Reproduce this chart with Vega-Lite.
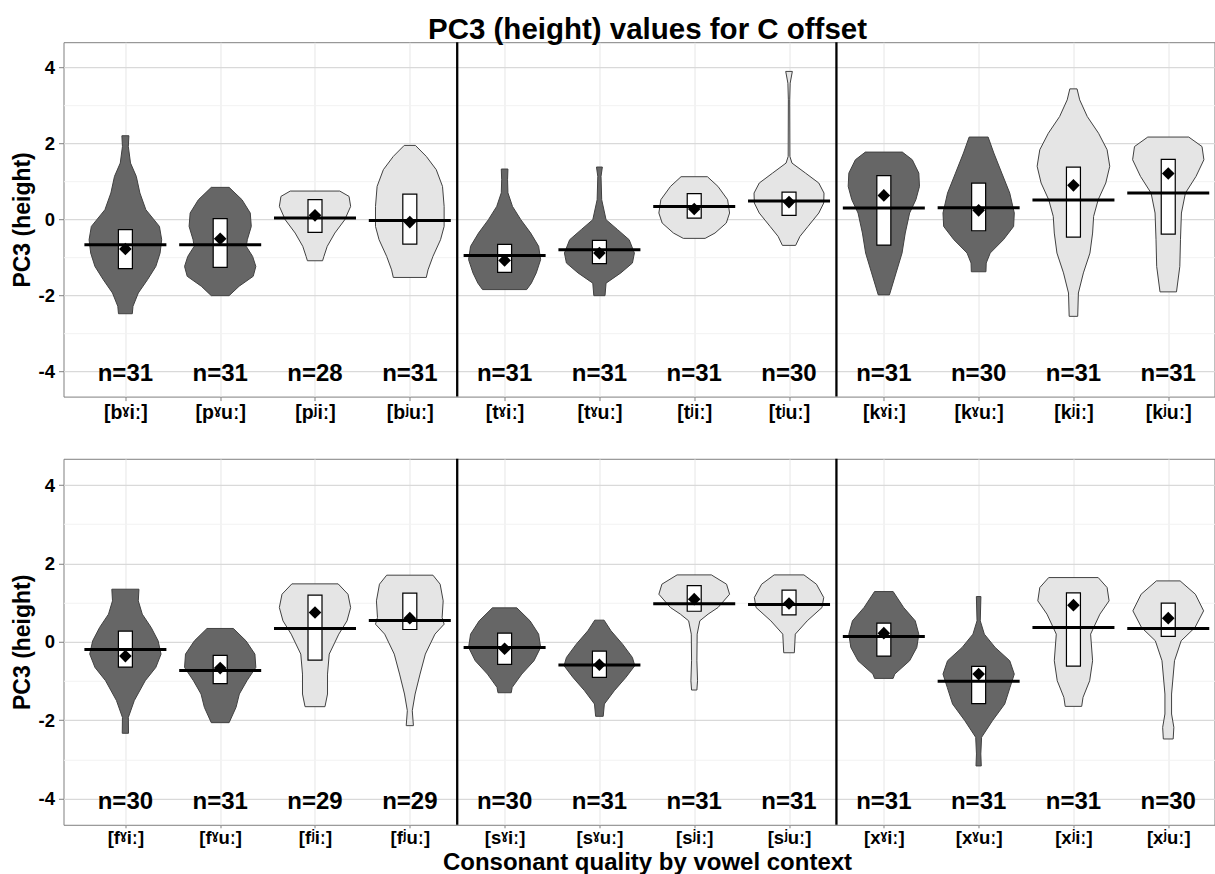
{
"$schema": "https://vega.github.io/schema/vega-lite/v6.json",
"background": "white",
"padding": {"left": 10.5, "top": 14.2, "right": 0, "bottom": 0},
"title": {"text": "PC3 (height) values for C offset", "font": "Liberation Sans", "fontSize": 29.5, "fontWeight": "bold", "color": "black", "anchor": "start", "frame": "group", "dx": 364.5, "offset": -27.7, "baseline": "alphabetic"},
"config": {"font": "Liberation Sans", "view": {"stroke": "#808080", "strokeWidth": 1}},
"spacing": 61.6,
"bounds": "flush",
"datasets": {
"vio": [
{"p":"A","k":1,"t":"d","v":2.205,"lo":0.963,"hi":1.037},{"p":"A","k":1,"t":"d","v":1.92,"lo":0.969,"hi":1.031},{"p":"A","k":1,"t":"d","v":1.485,"lo":0.946,"hi":1.054},{"p":"A","k":1,"t":"d","v":1.134,"lo":0.885,"hi":1.115},{"p":"A","k":1,"t":"d","v":0.695,"lo":0.847,"hi":1.153},{"p":"A","k":1,"t":"d","v":0.255,"lo":0.784,"hi":1.216},{"p":"A","k":1,"t":"d","v":-0.185,"lo":0.641,"hi":1.359},{"p":"A","k":1,"t":"d","v":-0.536,"lo":0.617,"hi":1.383},{"p":"A","k":1,"t":"d","v":-0.887,"lo":0.634,"hi":1.366},{"p":"A","k":1,"t":"d","v":-1.24,"lo":0.679,"hi":1.321},{"p":"A","k":1,"t":"d","v":-1.59,"lo":0.767,"hi":1.233},{"p":"A","k":1,"t":"d","v":-1.94,"lo":0.864,"hi":1.136},{"p":"A","k":1,"t":"d","v":-2.29,"lo":0.92,"hi":1.08},{"p":"A","k":1,"t":"d","v":-2.486,"lo":0.927,"hi":1.073},
{"p":"A","k":2,"t":"d","v":0.844,"lo":1.906,"hi":2.094},{"p":"A","k":2,"t":"d","v":0.519,"lo":1.77,"hi":2.23},{"p":"A","k":2,"t":"d","v":0.168,"lo":1.683,"hi":2.317},{"p":"A","k":2,"t":"d","v":-0.185,"lo":1.672,"hi":2.328},{"p":"A","k":2,"t":"d","v":-0.536,"lo":1.714,"hi":2.286},{"p":"A","k":2,"t":"d","v":-0.712,"lo":1.725,"hi":2.275},{"p":"A","k":2,"t":"d","v":-0.975,"lo":1.658,"hi":2.342},{"p":"A","k":2,"t":"d","v":-1.24,"lo":1.624,"hi":2.376},{"p":"A","k":2,"t":"d","v":-1.5,"lo":1.652,"hi":2.348},{"p":"A","k":2,"t":"d","v":-1.76,"lo":1.8,"hi":2.2},{"p":"A","k":2,"t":"d","v":-2.01,"lo":1.906,"hi":2.094},
{"p":"A","k":3,"t":"l","v":0.747,"lo":2.739,"hi":3.261},{"p":"A","k":3,"t":"l","v":0.606,"lo":2.641,"hi":3.359},{"p":"A","k":3,"t":"l","v":0.343,"lo":2.624,"hi":3.376},{"p":"A","k":3,"t":"l","v":-0.008,"lo":2.686,"hi":3.314},{"p":"A","k":3,"t":"l","v":-0.36,"lo":2.791,"hi":3.209},{"p":"A","k":3,"t":"l","v":-0.71,"lo":2.871,"hi":3.129},{"p":"A","k":3,"t":"l","v":-0.975,"lo":2.906,"hi":3.094},{"p":"A","k":3,"t":"l","v":-1.09,"lo":2.92,"hi":3.08},
{"p":"A","k":4,"t":"l","v":1.95,"lo":3.941,"hi":4.059},{"p":"A","k":4,"t":"l","v":1.66,"lo":3.826,"hi":4.174},{"p":"A","k":4,"t":"l","v":1.31,"lo":3.721,"hi":4.279},{"p":"A","k":4,"t":"l","v":0.87,"lo":3.655,"hi":4.345},{"p":"A","k":4,"t":"l","v":0.343,"lo":3.638,"hi":4.362},{"p":"A","k":4,"t":"l","v":-0.185,"lo":3.638,"hi":4.362},{"p":"A","k":4,"t":"l","v":-0.536,"lo":3.676,"hi":4.324},{"p":"A","k":4,"t":"l","v":-0.975,"lo":3.756,"hi":4.244},{"p":"A","k":4,"t":"l","v":-1.33,"lo":3.808,"hi":4.192},{"p":"A","k":4,"t":"l","v":-1.53,"lo":3.826,"hi":4.174},
{"p":"A","k":5,"t":"d","v":1.327,"lo":4.965,"hi":5.035},{"p":"A","k":5,"t":"d","v":1.045,"lo":4.969,"hi":5.031},{"p":"A","k":5,"t":"d","v":0.7,"lo":4.965,"hi":5.035},{"p":"A","k":5,"t":"d","v":0.343,"lo":4.917,"hi":5.083},{"p":"A","k":5,"t":"d","v":-0.008,"lo":4.829,"hi":5.171},{"p":"A","k":5,"t":"d","v":-0.36,"lo":4.725,"hi":5.275},{"p":"A","k":5,"t":"d","v":-0.71,"lo":4.641,"hi":5.359},{"p":"A","k":5,"t":"d","v":-1.06,"lo":4.62,"hi":5.38},{"p":"A","k":5,"t":"d","v":-1.41,"lo":4.666,"hi":5.334},{"p":"A","k":5,"t":"d","v":-1.68,"lo":4.718,"hi":5.282},{"p":"A","k":5,"t":"d","v":-1.85,"lo":4.767,"hi":5.233},
{"p":"A","k":6,"t":"d","v":1.38,"lo":5.969,"hi":6.031},{"p":"A","k":6,"t":"d","v":1.134,"lo":5.983,"hi":6.017},{"p":"A","k":6,"t":"d","v":0.519,"lo":5.976,"hi":6.024},{"p":"A","k":6,"t":"d","v":-0.008,"lo":5.93,"hi":6.07},{"p":"A","k":6,"t":"d","v":-0.27,"lo":5.808,"hi":6.192},{"p":"A","k":6,"t":"d","v":-0.536,"lo":5.686,"hi":6.314},{"p":"A","k":6,"t":"d","v":-0.887,"lo":5.631,"hi":6.369},{"p":"A","k":6,"t":"d","v":-1.15,"lo":5.652,"hi":6.348},{"p":"A","k":6,"t":"d","v":-1.41,"lo":5.774,"hi":6.226},{"p":"A","k":6,"t":"d","v":-1.68,"lo":5.93,"hi":6.07},{"p":"A","k":6,"t":"d","v":-2.01,"lo":5.941,"hi":6.059},
{"p":"A","k":7,"t":"l","v":1.125,"lo":6.861,"hi":7.139},{"p":"A","k":7,"t":"l","v":0.87,"lo":6.75,"hi":7.25},{"p":"A","k":7,"t":"l","v":0.519,"lo":6.648,"hi":7.352},{"p":"A","k":7,"t":"l","v":0.168,"lo":6.627,"hi":7.373},{"p":"A","k":7,"t":"l","v":-0.096,"lo":6.662,"hi":7.338},{"p":"A","k":7,"t":"l","v":-0.36,"lo":6.781,"hi":7.219},{"p":"A","k":7,"t":"l","v":-0.5,"lo":6.885,"hi":7.115},
{"p":"A","k":8,"t":"l","v":3.9,"lo":7.965,"hi":8.035},{"p":"A","k":8,"t":"l","v":3.59,"lo":7.988,"hi":8.012},{"p":"A","k":8,"t":"l","v":3.15,"lo":7.993,"hi":8.007},{"p":"A","k":8,"t":"l","v":1.66,"lo":7.991,"hi":8.009},{"p":"A","k":8,"t":"l","v":1.485,"lo":7.969,"hi":8.031},{"p":"A","k":8,"t":"l","v":1.22,"lo":7.826,"hi":8.174},{"p":"A","k":8,"t":"l","v":0.958,"lo":7.686,"hi":8.314},{"p":"A","k":8,"t":"l","v":0.694,"lo":7.631,"hi":8.369},{"p":"A","k":8,"t":"l","v":0.431,"lo":7.634,"hi":8.366},{"p":"A","k":8,"t":"l","v":0.168,"lo":7.686,"hi":8.314},{"p":"A","k":8,"t":"l","v":-0.185,"lo":7.8,"hi":8.2},{"p":"A","k":8,"t":"l","v":-0.449,"lo":7.885,"hi":8.115},{"p":"A","k":8,"t":"l","v":-0.685,"lo":7.93,"hi":8.07},
{"p":"A","k":9,"t":"d","v":1.774,"lo":8.805,"hi":9.195},{"p":"A","k":9,"t":"d","v":1.572,"lo":8.7,"hi":9.3},{"p":"A","k":9,"t":"d","v":1.22,"lo":8.631,"hi":9.369},{"p":"A","k":9,"t":"d","v":0.87,"lo":8.624,"hi":9.376},{"p":"A","k":9,"t":"d","v":0.519,"lo":8.662,"hi":9.338},{"p":"A","k":9,"t":"d","v":0.168,"lo":8.728,"hi":9.272},{"p":"A","k":9,"t":"d","v":-0.36,"lo":8.774,"hi":9.226},{"p":"A","k":9,"t":"d","v":-0.887,"lo":8.808,"hi":9.192},{"p":"A","k":9,"t":"d","v":-1.41,"lo":8.871,"hi":9.129},{"p":"A","k":9,"t":"d","v":-1.99,"lo":8.941,"hi":9.059},
{"p":"A","k":10,"t":"d","v":2.17,"lo":9.9,"hi":10.1},{"p":"A","k":10,"t":"d","v":1.75,"lo":9.84,"hi":10.16},{"p":"A","k":10,"t":"d","v":1.22,"lo":9.756,"hi":10.244},{"p":"A","k":10,"t":"d","v":0.694,"lo":9.672,"hi":10.328},{"p":"A","k":10,"t":"d","v":0.168,"lo":9.624,"hi":10.376},{"p":"A","k":10,"t":"d","v":-0.185,"lo":9.631,"hi":10.369},{"p":"A","k":10,"t":"d","v":-0.536,"lo":9.739,"hi":10.261},{"p":"A","k":10,"t":"d","v":-0.887,"lo":9.878,"hi":10.122},{"p":"A","k":10,"t":"d","v":-1.15,"lo":9.92,"hi":10.08},{"p":"A","k":10,"t":"d","v":-1.38,"lo":9.923,"hi":10.077},
{"p":"A","k":11,"t":"l","v":3.44,"lo":10.962,"hi":11.038},{"p":"A","k":11,"t":"l","v":3.15,"lo":10.934,"hi":11.066},{"p":"A","k":11,"t":"l","v":2.71,"lo":10.854,"hi":11.146},{"p":"A","k":11,"t":"l","v":2.27,"lo":10.735,"hi":11.265},{"p":"A","k":11,"t":"l","v":1.835,"lo":10.645,"hi":11.355},{"p":"A","k":11,"t":"l","v":1.4,"lo":10.617,"hi":11.383},{"p":"A","k":11,"t":"l","v":0.958,"lo":10.659,"hi":11.341},{"p":"A","k":11,"t":"l","v":0.519,"lo":10.739,"hi":11.261},{"p":"A","k":11,"t":"l","v":0.08,"lo":10.787,"hi":11.213},{"p":"A","k":11,"t":"l","v":-0.36,"lo":10.798,"hi":11.202},{"p":"A","k":11,"t":"l","v":-0.887,"lo":10.826,"hi":11.174},{"p":"A","k":11,"t":"l","v":-1.41,"lo":10.895,"hi":11.105},{"p":"A","k":11,"t":"l","v":-1.94,"lo":10.948,"hi":11.052},{"p":"A","k":11,"t":"l","v":-2.555,"lo":10.955,"hi":11.045},
{"p":"A","k":12,"t":"l","v":2.17,"lo":11.784,"hi":12.216},{"p":"A","k":12,"t":"l","v":1.92,"lo":11.644,"hi":12.356},{"p":"A","k":12,"t":"l","v":1.572,"lo":11.624,"hi":12.376},{"p":"A","k":12,"t":"l","v":1.134,"lo":11.707,"hi":12.293},{"p":"A","k":12,"t":"l","v":0.694,"lo":11.819,"hi":12.181},{"p":"A","k":12,"t":"l","v":0.168,"lo":11.861,"hi":12.139},{"p":"A","k":12,"t":"l","v":-0.536,"lo":11.871,"hi":12.129},{"p":"A","k":12,"t":"l","v":-1.24,"lo":11.878,"hi":12.122},{"p":"A","k":12,"t":"l","v":-1.91,"lo":11.913,"hi":12.087},
{"p":"B","k":1,"t":"d","v":1.342,"lo":0.857,"hi":1.143},{"p":"B","k":1,"t":"d","v":1.045,"lo":0.864,"hi":1.136},{"p":"B","k":1,"t":"d","v":0.705,"lo":0.822,"hi":1.178},{"p":"B","k":1,"t":"d","v":0.365,"lo":0.728,"hi":1.272},{"p":"B","k":1,"t":"d","v":0.025,"lo":0.655,"hi":1.345},{"p":"B","k":1,"t":"d","v":-0.314,"lo":0.624,"hi":1.376},{"p":"B","k":1,"t":"d","v":-0.654,"lo":0.679,"hi":1.321},{"p":"B","k":1,"t":"d","v":-0.994,"lo":0.791,"hi":1.209},{"p":"B","k":1,"t":"d","v":-1.5,"lo":0.906,"hi":1.094},{"p":"B","k":1,"t":"d","v":-1.93,"lo":0.969,"hi":1.031},{"p":"B","k":1,"t":"d","v":-2.335,"lo":0.967,"hi":1.033},
{"p":"B","k":2,"t":"d","v":0.34,"lo":1.861,"hi":2.139},{"p":"B","k":2,"t":"d","v":0.025,"lo":1.728,"hi":2.272},{"p":"B","k":2,"t":"d","v":-0.314,"lo":1.634,"hi":2.366},{"p":"B","k":2,"t":"d","v":-0.654,"lo":1.624,"hi":2.376},{"p":"B","k":2,"t":"d","v":-0.994,"lo":1.718,"hi":2.282},{"p":"B","k":2,"t":"d","v":-1.333,"lo":1.798,"hi":2.202},{"p":"B","k":2,"t":"d","v":-1.673,"lo":1.833,"hi":2.167},{"p":"B","k":2,"t":"d","v":-2.064,"lo":1.906,"hi":2.094},
{"p":"B","k":3,"t":"l","v":1.478,"lo":2.756,"hi":3.244},{"p":"B","k":3,"t":"l","v":1.214,"lo":2.652,"hi":3.348},{"p":"B","k":3,"t":"l","v":0.875,"lo":2.624,"hi":3.376},{"p":"B","k":3,"t":"l","v":0.535,"lo":2.662,"hi":3.338},{"p":"B","k":3,"t":"l","v":0.195,"lo":2.749,"hi":3.251},{"p":"B","k":3,"t":"l","v":-0.314,"lo":2.85,"hi":3.15},{"p":"B","k":3,"t":"l","v":-0.824,"lo":2.868,"hi":3.132},{"p":"B","k":3,"t":"l","v":-1.333,"lo":2.868,"hi":3.132},{"p":"B","k":3,"t":"l","v":-1.656,"lo":2.895,"hi":3.105},
{"p":"B","k":4,"t":"l","v":1.7,"lo":3.756,"hi":4.244},{"p":"B","k":4,"t":"l","v":1.47,"lo":3.68,"hi":4.32},{"p":"B","k":4,"t":"l","v":1.045,"lo":3.648,"hi":4.352},{"p":"B","k":4,"t":"l","v":0.62,"lo":3.659,"hi":4.341},{"p":"B","k":4,"t":"l","v":0.45,"lo":3.638,"hi":4.362},{"p":"B","k":4,"t":"l","v":0.195,"lo":3.735,"hi":4.265},{"p":"B","k":4,"t":"l","v":-0.314,"lo":3.836,"hi":4.164},{"p":"B","k":4,"t":"l","v":-0.824,"lo":3.892,"hi":4.108},{"p":"B","k":4,"t":"l","v":-1.333,"lo":3.944,"hi":4.056},{"p":"B","k":4,"t":"l","v":-1.758,"lo":3.974,"hi":4.026},{"p":"B","k":4,"t":"l","v":-2.14,"lo":3.962,"hi":4.038},
{"p":"B","k":5,"t":"d","v":0.866,"lo":4.871,"hi":5.129},{"p":"B","k":5,"t":"d","v":0.535,"lo":4.732,"hi":5.268},{"p":"B","k":5,"t":"d","v":0.195,"lo":4.641,"hi":5.359},{"p":"B","k":5,"t":"d","v":-0.144,"lo":4.62,"hi":5.38},{"p":"B","k":5,"t":"d","v":-0.484,"lo":4.69,"hi":5.31},{"p":"B","k":5,"t":"d","v":-0.824,"lo":4.819,"hi":5.181},{"p":"B","k":5,"t":"d","v":-1.163,"lo":4.92,"hi":5.08},{"p":"B","k":5,"t":"d","v":-1.3,"lo":4.93,"hi":5.07},
{"p":"B","k":6,"t":"d","v":0.552,"lo":5.951,"hi":6.049},{"p":"B","k":6,"t":"d","v":0.28,"lo":5.878,"hi":6.122},{"p":"B","k":6,"t":"d","v":-0.06,"lo":5.756,"hi":6.244},{"p":"B","k":6,"t":"d","v":-0.4,"lo":5.652,"hi":6.348},{"p":"B","k":6,"t":"d","v":-0.611,"lo":5.627,"hi":6.373},{"p":"B","k":6,"t":"d","v":-0.909,"lo":5.721,"hi":6.279},{"p":"B","k":6,"t":"d","v":-1.248,"lo":5.843,"hi":6.157},{"p":"B","k":6,"t":"d","v":-1.588,"lo":5.948,"hi":6.052},{"p":"B","k":6,"t":"d","v":-1.902,"lo":5.96,"hi":6.04},
{"p":"B","k":7,"t":"l","v":1.707,"lo":6.819,"hi":7.181},{"p":"B","k":7,"t":"l","v":1.47,"lo":6.659,"hi":7.341},{"p":"B","k":7,"t":"l","v":1.214,"lo":6.627,"hi":7.373},{"p":"B","k":7,"t":"l","v":0.875,"lo":6.749,"hi":7.251},{"p":"B","k":7,"t":"l","v":0.705,"lo":6.854,"hi":7.146},{"p":"B","k":7,"t":"l","v":0.535,"lo":6.941,"hi":7.059},{"p":"B","k":7,"t":"l","v":0.195,"lo":6.969,"hi":7.031},{"p":"B","k":7,"t":"l","v":-0.484,"lo":6.972,"hi":7.028},{"p":"B","k":7,"t":"l","v":-0.994,"lo":6.965,"hi":7.035},{"p":"B","k":7,"t":"l","v":-1.231,"lo":6.972,"hi":7.028},
{"p":"B","k":8,"t":"l","v":1.707,"lo":7.843,"hi":8.157},{"p":"B","k":8,"t":"l","v":1.47,"lo":7.711,"hi":8.289},{"p":"B","k":8,"t":"l","v":1.13,"lo":7.634,"hi":8.366},{"p":"B","k":8,"t":"l","v":0.875,"lo":7.652,"hi":8.348},{"p":"B","k":8,"t":"l","v":0.535,"lo":7.808,"hi":8.192},{"p":"B","k":8,"t":"l","v":0.195,"lo":7.934,"hi":8.066},{"p":"B","k":8,"t":"l","v":-0.28,"lo":7.944,"hi":8.056},
{"p":"B","k":9,"t":"d","v":1.282,"lo":8.902,"hi":9.098},{"p":"B","k":9,"t":"d","v":0.875,"lo":8.791,"hi":9.209},{"p":"B","k":9,"t":"d","v":0.535,"lo":8.669,"hi":9.331},{"p":"B","k":9,"t":"d","v":0.195,"lo":8.631,"hi":9.369},{"p":"B","k":9,"t":"d","v":-0.144,"lo":8.652,"hi":9.348},{"p":"B","k":9,"t":"d","v":-0.484,"lo":8.728,"hi":9.272},{"p":"B","k":9,"t":"d","v":-0.824,"lo":8.885,"hi":9.115},{"p":"B","k":9,"t":"d","v":-0.934,"lo":8.902,"hi":9.098},
{"p":"B","k":10,"t":"d","v":1.155,"lo":9.976,"hi":10.024},{"p":"B","k":10,"t":"d","v":0.535,"lo":9.983,"hi":10.017},{"p":"B","k":10,"t":"d","v":0.195,"lo":9.94,"hi":10.06},{"p":"B","k":10,"t":"d","v":-0.144,"lo":9.826,"hi":10.174},{"p":"B","k":10,"t":"d","v":-0.484,"lo":9.672,"hi":10.328},{"p":"B","k":10,"t":"d","v":-0.824,"lo":9.624,"hi":10.376},{"p":"B","k":10,"t":"d","v":-1.163,"lo":9.669,"hi":10.331},{"p":"B","k":10,"t":"d","v":-1.588,"lo":9.725,"hi":10.275},{"p":"B","k":10,"t":"d","v":-2.013,"lo":9.854,"hi":10.146},{"p":"B","k":10,"t":"d","v":-2.437,"lo":9.969,"hi":10.031},{"p":"B","k":10,"t":"d","v":-2.862,"lo":9.977,"hi":10.023},{"p":"B","k":10,"t":"d","v":-3.168,"lo":9.972,"hi":10.028},
{"p":"B","k":11,"t":"l","v":1.639,"lo":10.739,"hi":11.261},{"p":"B","k":11,"t":"l","v":1.384,"lo":10.645,"hi":11.355},{"p":"B","k":11,"t":"l","v":1.045,"lo":10.624,"hi":11.376},{"p":"B","k":11,"t":"l","v":0.705,"lo":10.721,"hi":11.279},{"p":"B","k":11,"t":"l","v":0.195,"lo":10.819,"hi":11.181},{"p":"B","k":11,"t":"l","v":-0.484,"lo":10.798,"hi":11.202},{"p":"B","k":11,"t":"l","v":-0.994,"lo":10.829,"hi":11.171},{"p":"B","k":11,"t":"l","v":-1.418,"lo":10.899,"hi":11.101},{"p":"B","k":11,"t":"l","v":-1.648,"lo":10.913,"hi":11.087},
{"p":"B","k":12,"t":"l","v":1.554,"lo":11.875,"hi":12.125},{"p":"B","k":12,"t":"l","v":1.214,"lo":11.714,"hi":12.286},{"p":"B","k":12,"t":"l","v":0.79,"lo":11.627,"hi":12.373},{"p":"B","k":12,"t":"l","v":0.365,"lo":11.718,"hi":12.282},{"p":"B","k":12,"t":"l","v":0.025,"lo":11.864,"hi":12.136},{"p":"B","k":12,"t":"l","v":-0.484,"lo":11.934,"hi":12.066},{"p":"B","k":12,"t":"l","v":-1.333,"lo":11.965,"hi":12.035},{"p":"B","k":12,"t":"l","v":-1.843,"lo":11.965,"hi":12.035},{"p":"B","k":12,"t":"l","v":-2.183,"lo":11.941,"hi":12.059},{"p":"B","k":12,"t":"l","v":-2.48,"lo":11.948,"hi":12.052}
],
"st": [
{"p":"A","k":1,"blo":-1.3,"bhi":-0.27,"med":-0.668,"mn":-0.78,"lab":"n=31"},
{"p":"A","k":2,"blo":-1.265,"bhi":0.018,"med":-0.668,"mn":-0.51,"lab":"n=31"},
{"p":"A","k":3,"blo":-0.343,"bhi":0.519,"med":0.036,"mn":0.106,"lab":"n=28"},
{"p":"A","k":4,"blo":-0.65,"bhi":0.668,"med":-0.026,"mn":-0.07,"lab":"n=31"},
{"p":"A","k":5,"blo":-1.395,"bhi":-0.66,"med":-0.95,"mn":-1.08,"lab":"n=31"},
{"p":"A","k":6,"blo":-1.168,"bhi":-0.553,"med":-0.8,"mn":-0.887,"lab":"n=31"},
{"p":"A","k":7,"blo":0.036,"bhi":0.677,"med":0.343,"mn":0.273,"lab":"n=31"},
{"p":"A","k":8,"blo":0.106,"bhi":0.72,"med":0.484,"mn":0.457,"lab":"n=30"},
{"p":"A","k":9,"blo":-0.676,"bhi":1.151,"med":0.3,"mn":0.633,"lab":"n=31"},
{"p":"A","k":10,"blo":-0.299,"bhi":0.958,"med":0.308,"mn":0.238,"lab":"n=30"},
{"p":"A","k":11,"blo":-0.466,"bhi":1.38,"med":0.51,"mn":0.897,"lab":"n=31"},
{"p":"A","k":12,"blo":-0.387,"bhi":1.58,"med":0.695,"mn":1.21,"lab":"n=31"},
{"p":"B","k":1,"blo":-0.645,"bhi":0.272,"med":-0.195,"mn":-0.365,"lab":"n=30"},
{"p":"B","k":2,"blo":-1.07,"bhi":-0.348,"med":-0.73,"mn":-0.671,"lab":"n=31"},
{"p":"B","k":3,"blo":-0.467,"bhi":1.19,"med":0.34,"mn":0.747,"lab":"n=29"},
{"p":"B","k":4,"blo":0.314,"bhi":1.24,"med":0.544,"mn":0.603,"lab":"n=29"},
{"p":"B","k":5,"blo":-0.577,"bhi":0.221,"med":-0.144,"mn":-0.178,"lab":"n=30"},
{"p":"B","k":6,"blo":-0.909,"bhi":-0.238,"med":-0.594,"mn":-0.586,"lab":"n=31"},
{"p":"B","k":7,"blo":0.78,"bhi":1.435,"med":0.968,"mn":1.087,"lab":"n=31"},
{"p":"B","k":8,"blo":0.688,"bhi":1.316,"med":0.951,"mn":0.977,"lab":"n=31"},
{"p":"B","k":9,"blo":-0.365,"bhi":0.476,"med":0.136,"mn":0.221,"lab":"n=31"},
{"p":"B","k":10,"blo":-1.58,"bhi":-0.628,"med":-1.01,"mn":-0.824,"lab":"n=31"},
{"p":"B","k":11,"blo":-0.62,"bhi":1.248,"med":0.365,"mn":0.934,"lab":"n=31"},
{"p":"B","k":12,"blo":0.136,"bhi":0.985,"med":0.34,"mn":0.603,"lab":"n=30"}
],
"sep": [{"s":4.5},{"s":8.5}]
},
"vconcat": [
{
"width": 1151, "height": 354.4,
"resolve": {"axis": {"y": "independent"}},
"layer": [
{"data": {"name": "vio"}, "transform": [{"filter": "datum.p == 'A'"}],
 "mark": {"type": "area", "orient": "horizontal", "stroke": "#404040", "strokeWidth": 1, "opacity": 1},
 "encoding": {
  "y": {"field": "v", "type": "quantitative", "scale": {"domain": [-4.67, 4.67], "nice": false, "zero": false},
   "axis": {"values": [-4,-2,0,2,4], "labelExpr": "'' + datum.value", "grid": true, "gridColor": "#d9d9d9", "gridWidth": 1.3, "domain": false, "tickColor": "#7f7f7f", "tickSize": 5, "labelPadding": 4, "labelFontSize": 18.5, "labelFontWeight": "bold", "labelColor": "black", "title": "PC3 (height)", "titleFontSize": 23, "titleFontWeight": "bold", "titleColor": "black", "titlePadding": 4}},
  "x": {"field": "lo", "type": "quantitative", "title": null, "scale": {"domain": [0.4, 12.435], "nice": false, "zero": false},
   "axis": {"values": [1,2,3,4,5,6,7,8,9,10,11,12], "labelExpr": "['[bˠiː]','[pˠuː]','[pʲiː]','[bʲuː]','[tˠiː]','[tˠuː]','[tʲiː]','[tʲuː]','[kˠiː]','[kˠuː]','[kʲiː]','[kʲuː]'][datum.value - 1]", "grid": true, "gridColor": "#e6e6e6", "domain": false, "tickColor": "#7f7f7f", "tickSize": 4, "labelPadding": 3, "labelFontSize": 19.5, "labelFontWeight": "bold", "labelColor": "black", "labelFlush": false, "labelOverlap": false}},
  "x2": {"field": "hi"},
  "detail": {"field": "k", "type": "nominal"},
  "color": {"field": "t", "type": "nominal", "scale": {"domain": ["d","l"], "range": ["#666666","#e5e5e5"]}, "legend": null}
 }},
{"data": {"name": "st"}, "transform": [{"filter": "datum.p == 'A'"}],
 "mark": {"type": "bar", "size": 14, "fill": "white", "stroke": "black", "strokeWidth": 1.2, "opacity": 1},
 "encoding": {
  "x": {"field": "k", "type": "quantitative", "title": null},
  "y": {"field": "blo", "type": "quantitative", "axis": {"orient": "right", "values": [-3,-1,1,3], "grid": true, "gridColor": "#f2f2f2", "labels": false, "ticks": false, "domain": false, "title": null}},
  "y2": {"field": "bhi"}
 }},
{"data": {"name": "st"}, "transform": [{"filter": "datum.p == 'A'"}],
 "mark": {"type": "tick", "orient": "horizontal", "size": 82, "thickness": 3, "color": "black", "opacity": 1},
 "encoding": {
  "x": {"field": "k", "type": "quantitative", "title": null},
  "y": {"field": "med", "type": "quantitative", "axis": null}
 }},
{"data": {"name": "st"}, "transform": [{"filter": "datum.p == 'A'"}],
 "mark": {"type": "point", "shape": "diamond", "filled": true, "color": "black", "size": 160, "opacity": 1, "strokeWidth": 0},
 "encoding": {
  "x": {"field": "k", "type": "quantitative", "title": null},
  "y": {"field": "mn", "type": "quantitative", "axis": null}
 }},
{"data": {"name": "sep"},
 "mark": {"type": "rule", "color": "black", "strokeWidth": 2.3},
 "encoding": {"x": {"field": "s", "type": "quantitative", "title": null}}},
{"data": {"name": "st"}, "transform": [{"filter": "datum.p == 'A'"}],
 "mark": {"type": "text", "fontSize": 24, "fontWeight": "bold", "color": "black", "baseline": "middle", "dy": 3},
 "encoding": {
  "x": {"field": "k", "type": "quantitative", "title": null},
  "y": {"datum": -4, "type": "quantitative", "axis": null},
  "text": {"field": "lab", "type": "nominal"}
 }}
]
},
{
"width": 1151, "height": 366,
"resolve": {"axis": {"y": "independent"}},
"layer": [
{"data": {"name": "vio"}, "transform": [{"filter": "datum.p == 'B'"}],
 "mark": {"type": "area", "orient": "horizontal", "stroke": "#404040", "strokeWidth": 1, "opacity": 1},
 "encoding": {
  "y": {"field": "v", "type": "quantitative", "scale": {"domain": [-4.67, 4.67], "nice": false, "zero": false},
   "axis": {"values": [-4,-2,0,2,4], "labelExpr": "'' + datum.value", "grid": true, "gridColor": "#d9d9d9", "gridWidth": 1.3, "domain": false, "tickColor": "#7f7f7f", "tickSize": 5, "labelPadding": 4, "labelFontSize": 18.5, "labelFontWeight": "bold", "labelColor": "black", "title": "PC3 (height)", "titleFontSize": 23, "titleFontWeight": "bold", "titleColor": "black", "titlePadding": 4}},
  "x": {"field": "lo", "type": "quantitative", "title": "Consonant quality by vowel context", "scale": {"domain": [0.4, 12.435], "nice": false, "zero": false},
   "axis": {"values": [1,2,3,4,5,6,7,8,9,10,11,12], "labelExpr": "['[fˠiː]','[fˠuː]','[fʲiː]','[fʲuː]','[sˠiː]','[sˠuː]','[sʲiː]','[sʲuː]','[xˠiː]','[xˠuː]','[xʲiː]','[xʲuː]'][datum.value - 1]", "grid": true, "gridColor": "#e6e6e6", "domain": false, "tickColor": "#7f7f7f", "tickSize": 3, "labelPadding": 1, "labelFontSize": 18.5, "labelFontWeight": "bold", "labelColor": "black", "labelFlush": false, "labelOverlap": false, "titleFontSize": 24, "titleFontWeight": "bold", "titleColor": "black", "titleX": 583.5, "titleY": 44.7, "titleBaseline": "alphabetic", "titleAlign": "center"}},
  "x2": {"field": "hi"},
  "detail": {"field": "k", "type": "nominal"},
  "color": {"field": "t", "type": "nominal", "scale": {"domain": ["d","l"], "range": ["#666666","#e5e5e5"]}, "legend": null}
 }},
{"data": {"name": "st"}, "transform": [{"filter": "datum.p == 'B'"}],
 "mark": {"type": "bar", "size": 14, "fill": "white", "stroke": "black", "strokeWidth": 1.2, "opacity": 1},
 "encoding": {
  "x": {"field": "k", "type": "quantitative", "title": "Consonant quality by vowel context"},
  "y": {"field": "blo", "type": "quantitative", "axis": {"orient": "right", "values": [-3,-1,1,3], "grid": true, "gridColor": "#f2f2f2", "labels": false, "ticks": false, "domain": false, "title": null}},
  "y2": {"field": "bhi"}
 }},
{"data": {"name": "st"}, "transform": [{"filter": "datum.p == 'B'"}],
 "mark": {"type": "tick", "orient": "horizontal", "size": 82, "thickness": 3, "color": "black", "opacity": 1},
 "encoding": {
  "x": {"field": "k", "type": "quantitative", "title": "Consonant quality by vowel context"},
  "y": {"field": "med", "type": "quantitative", "axis": null}
 }},
{"data": {"name": "st"}, "transform": [{"filter": "datum.p == 'B'"}],
 "mark": {"type": "point", "shape": "diamond", "filled": true, "color": "black", "size": 160, "opacity": 1, "strokeWidth": 0},
 "encoding": {
  "x": {"field": "k", "type": "quantitative", "title": "Consonant quality by vowel context"},
  "y": {"field": "mn", "type": "quantitative", "axis": null}
 }},
{"data": {"name": "sep"},
 "mark": {"type": "rule", "color": "black", "strokeWidth": 2.3},
 "encoding": {"x": {"field": "s", "type": "quantitative", "title": "Consonant quality by vowel context"}}},
{"data": {"name": "st"}, "transform": [{"filter": "datum.p == 'B'"}],
 "mark": {"type": "text", "fontSize": 24, "fontWeight": "bold", "color": "black", "baseline": "middle", "dy": 3},
 "encoding": {
  "x": {"field": "k", "type": "quantitative", "title": "Consonant quality by vowel context"},
  "y": {"datum": -4, "type": "quantitative", "axis": null},
  "text": {"field": "lab", "type": "nominal"}
 }}
]
}
]
}
